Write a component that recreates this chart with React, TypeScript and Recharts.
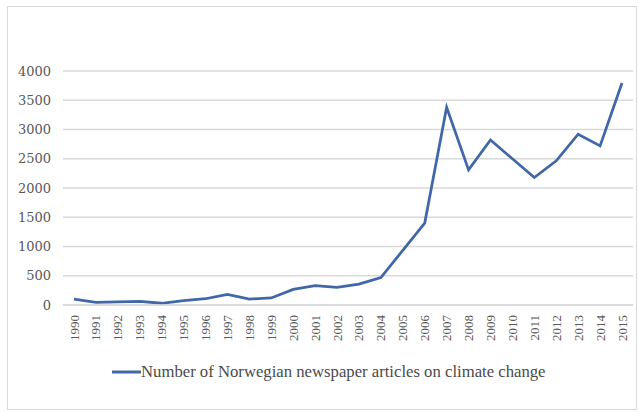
import React from "react";
import { LineChart, Line, XAxis, YAxis, CartesianGrid } from "recharts";

const years = ["1990","1991","1992","1993","1994","1995","1996","1997","1998","1999","2000","2001","2002","2003","2004","2005","2006","2007","2008","2009","2010","2011","2012","2013","2014","2015"];
const articles = [100,46,52,60,30,73,107,180,102,120,266,330,300,356,470,935,1400,3380,2310,2820,2500,2180,2465,2920,2720,3795];
const yTicks = [0,500,1000,1500,2000,2500,3000,3500,4000];
const seriesName = "Number of Norwegian newspaper articles on climate change";

const data = years.map((y, i) => ({ year: y, value: articles[i] }));

const XTick = (props: any) => {
  const { x, y, payload } = props;
  return (
    <text
      x={0}
      y={0}
      transform={`translate(${x},${y}) rotate(-90)`}
      textAnchor="end"
      dominantBaseline="central"
      fontFamily="Liberation Serif"
      fontSize={13}
      fill="#595959"
    >
      {payload.value}
    </text>
  );
};

export default function App() {
  return (
    <div style={{ position: "absolute", left: 7, top: 6, width: 628, height: 402, border: "1px solid #d9d9d9", background: "#fff" }}>
      <LineChart width={628} height={402} data={data} margin={{ top: 64, right: 3, bottom: 59, left: 0 }}>
        <CartesianGrid vertical={false} stroke="#d9d9d9" strokeWidth={1.5} />
        <XAxis
          dataKey="year"
          interval={0}
          axisLine={{ stroke: "#d9d9d9", strokeWidth: 1.5 }}
          tickLine={false}
          tickMargin={4}
          tick={<XTick />}
          padding={{ left: 11, right: 11 }}
          height={45}
        />
        <YAxis
          domain={[0, 4000]}
          ticks={yTicks}
          width={55}
          axisLine={false}
          tickLine={false}
          tickMargin={6}
          tick={{ fontFamily: "DejaVu Serif", fontSize: 13, fill: "#595959" }}
        />
        <Line
          type="linear"
          dataKey="value"
          name={seriesName}
          stroke="#4067a8"
          strokeWidth={2.75}
          dot={false}
          isAnimationActive={false}
        />
      </LineChart>
      <div style={{ position: "absolute", left: 104, top: 355, display: "flex", alignItems: "center", height: 20 }}>
        <svg width={29} height={10} style={{ display: "block" }}>
          <line x1={0} y1={5} x2={29} y2={5} stroke="#4067a8" strokeWidth={3} />
        </svg>
        <span style={{ fontFamily: "Liberation Serif", fontSize: 16.7, color: "#4a4a4a", whiteSpace: "nowrap", lineHeight: "20px" }}>{seriesName}</span>
      </div>
    </div>
  );
}
